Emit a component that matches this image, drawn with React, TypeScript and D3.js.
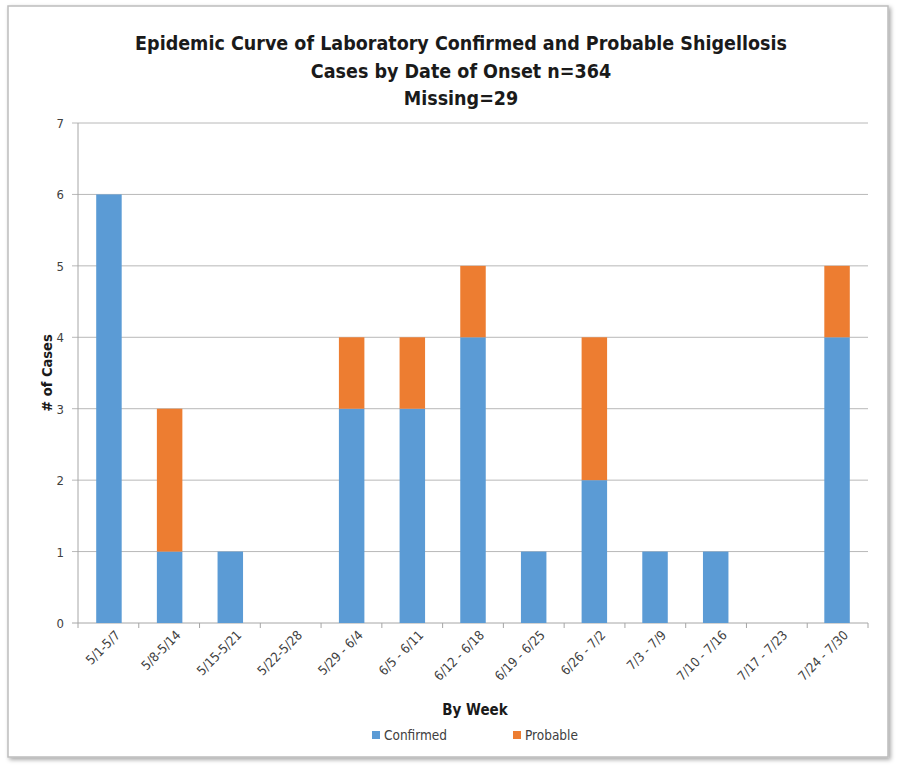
import React from "react";
import * as d3 from "d3";

const weeks = ["5/1-5/7", "5/8-5/14", "5/15-5/21", "5/22-5/28", "5/29 - 6/4", "6/5 - 6/11", "6/12 - 6/18", "6/19 - 6/25", "6/26 - 7/2", "7/3 - 7/9", "7/10 - 7/16", "7/17 - 7/23", "7/24 - 7/30"];
const confirmed = [6, 1, 1, 0, 3, 3, 4, 1, 2, 1, 1, 0, 4];
const probable = [0, 2, 0, 0, 1, 1, 1, 0, 2, 0, 0, 0, 1];
const yTicks = [0, 1, 2, 3, 4, 5, 6, 7];
const titleLines = ["Epidemic Curve of Laboratory Confirmed and Probable Shigellosis", "Cases by Date of Onset n=364", "Missing=29"];

const BLUE = "#5b9bd5";
const ORANGE = "#ed7d31";
const FONT = "'Liberation Sans Narrow', 'DejaVu Sans Condensed', 'Open Sans', sans-serif";

export default function App() {
  const W = 900, H = 765;
  const left = 78, right = 868, top = 123, bottom = 623;
  const x = d3.scaleBand<string>().domain(weeks).range([left, right]).paddingInner(0.58).paddingOuter(0.3);
  const y = d3.scaleLinear().domain([0, 7]).range([bottom, top]);
  const boundaries = d3.range(weeks.length + 1).map((i) => left + i * ((right - left) / weeks.length));

  return (
    <svg width={W} height={H} style={{ position: "absolute", left: 0, top: 0, background: "#fff" }}>
      <defs>
        <filter id="sh" x="-5%" y="-5%" width="110%" height="110%">
          <feDropShadow dx="2" dy="2" stdDeviation="2" floodColor="#000" floodOpacity="0.35" />
        </filter>
      </defs>
      <rect x={8} y={6} width={880} height={751} fill="#fff" stroke="#bdbdbd" strokeWidth={1.5} filter="url(#sh)" />
      <g fontFamily={FONT} fontWeight="bold" fontSize={19.5} fill="#1a1a1a" textAnchor="middle">
        {titleLines.map((t, i) => (
          <text key={i} x={461} y={50 + i * 27.5}>{t}</text>
        ))}
      </g>
      {yTicks.map((t) => (
        <line key={t} x1={left - 6} x2={right} y1={y(t)} y2={y(t)} stroke={t === 0 ? "#a6a6a6" : "#b8b8b8"} strokeWidth={1} />
      ))}
      <line x1={left} x2={left} y1={top} y2={bottom} stroke="#a6a6a6" />
      {boundaries.map((b, i) => (
        <line key={i} x1={b} x2={b} y1={bottom} y2={bottom + 5} stroke="#a6a6a6" />
      ))}
      {yTicks.map((t) => (
        <text key={t} x={left - 14} y={y(t) + 5} fontFamily={FONT} fontSize={13} fill="#404040" textAnchor="end">{t}</text>
      ))}
      {weeks.map((w, i) => (
        <g key={w}>
          {confirmed[i] > 0 && (
            <rect x={x(w)} y={y(confirmed[i])} width={x.bandwidth()} height={y(0) - y(confirmed[i])} fill={BLUE} />
          )}
          {probable[i] > 0 && (
            <rect x={x(w)} y={y(confirmed[i] + probable[i])} width={x.bandwidth()} height={y(confirmed[i]) - y(confirmed[i] + probable[i])} fill={ORANGE} />
          )}
        </g>
      ))}
      {weeks.map((w) => {
        const cx = (x(w) as number) + x.bandwidth() / 2 + 12;
        const cy = bottom + 13;
        return (
          <text key={w} x={cx} y={cy} transform={`rotate(-45 ${cx} ${cy})`} fontFamily={FONT} fontSize={13} fill="#404040" textAnchor="end">{w}</text>
        );
      })}
      <text x={475} y={715} fontFamily={FONT} fontWeight="bold" fontSize={15} fill="#1a1a1a" textAnchor="middle">By Week</text>
      <text transform={`translate(52 ${(top + bottom) / 2}) rotate(-90)`} fontFamily={FONT} fontWeight="bold" fontSize={14.5} fill="#1a1a1a" textAnchor="middle">
        # of Cases
      </text>
      <rect x={372} y={731} width={8} height={8} fill={BLUE} />
      <text x={384} y={740} fontFamily={FONT} fontSize={13.5} fill="#404040">Confirmed</text>
      <rect x={513} y={731} width={8} height={8} fill={ORANGE} />
      <text x={525} y={740} fontFamily={FONT} fontSize={13.5} fill="#404040">Probable</text>
    </svg>
  );
}
